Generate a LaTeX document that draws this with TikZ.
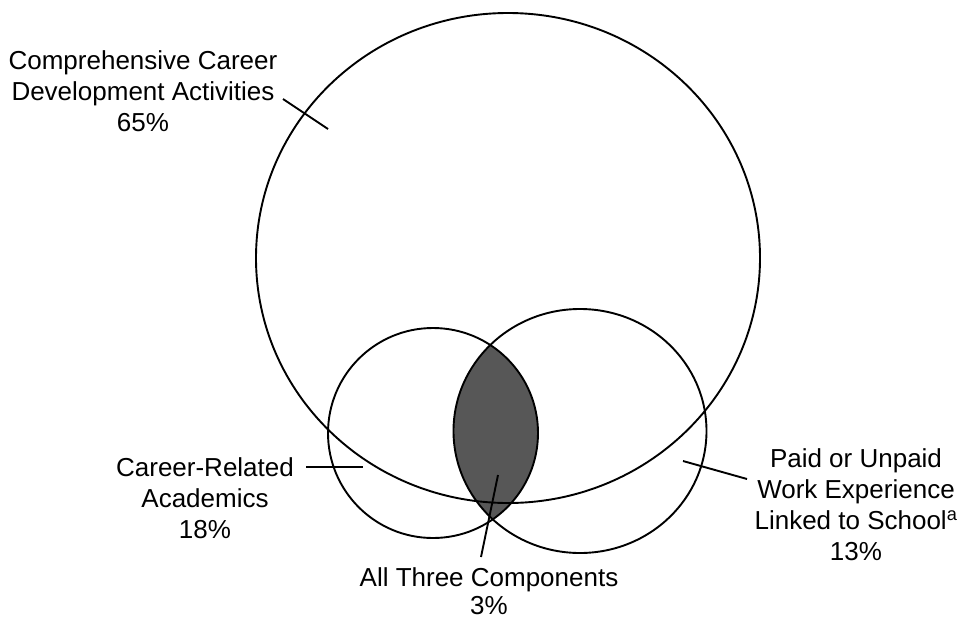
\documentclass[tikz,border=0pt]{standalone}
\usepackage{fontspec}
\setmainfont{Liberation Sans}
\begin{document}
\begin{tikzpicture}[x=1pt,y=-1pt,
  ring/.style={line width=1.9pt},
  leader/.style={line width=1.9pt},
  lens/.style={fill=black!66},
  lbl/.style={align=center,inner sep=0pt,anchor=north,font=\fontsize{26}{31}\selectfont}]
\useasboundingbox (0,0) rectangle (961,619);
% circle centres
\coordinate (BC) at (508,258);
\coordinate (LC) at (433,433);
\coordinate (RC) at (580,431);
% shaded lens (all three components)
\begin{scope}
  \clip (LC) circle[radius=105];
  \fill[lens] (RC) ellipse[x radius=126.5,y radius=122];
\end{scope}
% circles
\draw[ring] (BC) ellipse[x radius=252,y radius=245];
\draw[ring] (LC) circle[radius=105];
\draw[ring] (RC) ellipse[x radius=126.5,y radius=122];
% labels
\node[lbl] (comp) at (143,50) {Comprehensive Career\\Development Activities\\65\%};
\node[lbl] (career) at (205,457) {Career-Related\\Academics\\18\%};
\node[lbl] (paid) at (856,448) {Paid or Unpaid\\Work Experience\\Linked to School\textsuperscript{a}\\13\%};
\node[lbl] (all) at (489,567) {All Three Components\\[-3pt]3\%};
% leader end points
\coordinate (compA) at (283,99);   \coordinate (compB) at (328,129);
\coordinate (carA) at (306,467);   \coordinate (carB) at (363,467);
\coordinate (paidA) at (747,479);  \coordinate (paidB) at (683,461);
\coordinate (allA) at (481,557);   \coordinate (allB) at (498,475);
\draw[leader] (compA) -- (compB);
\draw[leader] (carA) -- (carB);
\draw[leader] (paidA) -- (paidB);
\draw[leader] (allA) -- (allB);
\end{tikzpicture}
\end{document}
